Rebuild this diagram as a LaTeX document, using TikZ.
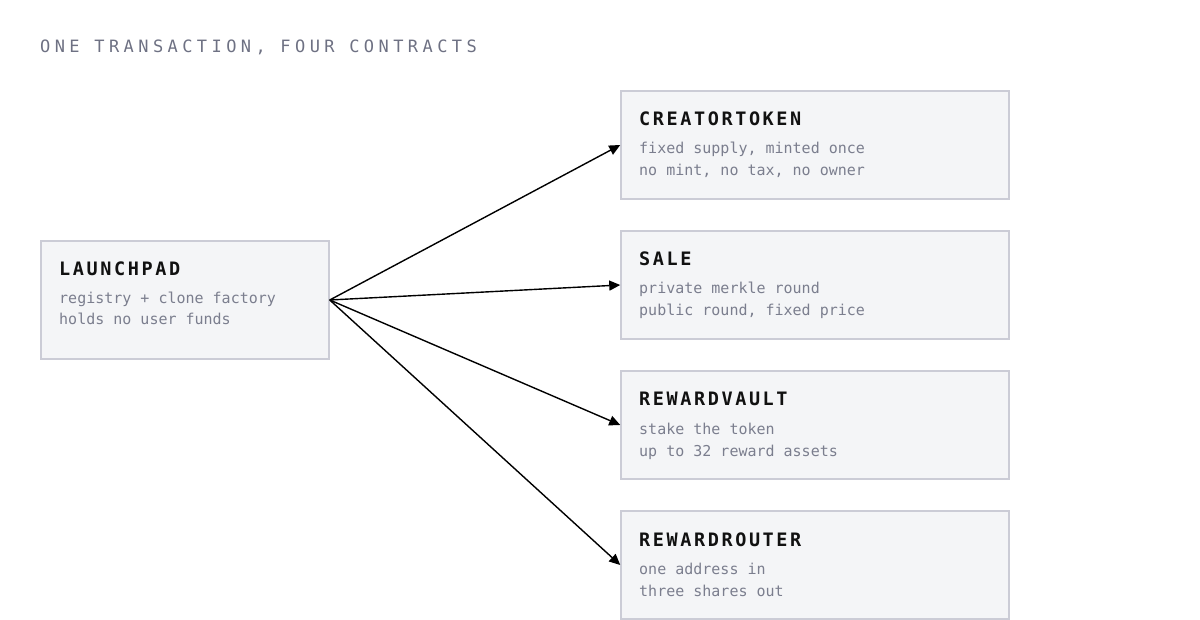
\documentclass[tikz,border=0pt]{standalone}
\usepackage{fontspec}
\usetikzlibrary{arrows.meta}
\newfontfamily\capfont[LetterSpace=26]{DejaVu Sans Mono}
\newfontfamily\headfont[LetterSpace=14]{DejaVu Sans Mono Bold}
\newfontfamily\bodyfont{DejaVu Sans Mono}
\definecolor{boxfill}{HTML}{F4F5F7}
\definecolor{boxline}{HTML}{CBCCD6}
\definecolor{subgrey}{HTML}{7B7E8E}
\definecolor{capgrey}{HTML}{6E7183}
\definecolor{headblack}{HTML}{111111}
\tikzset{
  card/.style={draw=boxline, fill=boxfill, line width=1.5pt, inner sep=0pt, rectangle},
  bigcard/.style={card, minimum width=288pt, minimum height=118pt},
  smallcard/.style={card, minimum width=388pt, minimum height=108pt},
  heading/.style={anchor=base west, inner sep=0pt, text=headblack, font=\headfont\fontsize{18.5pt}{20pt}\selectfont},
  sub/.style={anchor=base west, inner sep=0pt, text=subgrey, font=\bodyfont\fontsize{15pt}{22pt}\selectfont},
  link/.style={draw=black, line width=1.4pt, -{Triangle[length=11pt,width=10pt]}, shorten >=0pt}
}
\begin{document}
\begin{tikzpicture}[x=1pt,y=-1pt]
\fill[white] (0,0) rectangle (1200,620);
\useasboundingbox (0,0) rectangle (1200,620);
\node[anchor=base west, inner sep=0pt, text=capgrey, font=\capfont\fontsize{17pt}{18pt}\selectfont] (cap) at (40,53) {ONE TRANSACTION, FOUR CONTRACTS};

\node[bigcard] (lp) at (185,300) {};
\node[heading] (lph) at (59,276) {LAUNCHPAD};
\node[sub] (lps1) at (59,304) {registry + clone factory};
\node[sub] (lps2) at (59,325) {holds no user funds};

\node[smallcard] (ct) at (815,145) {};
\node[heading] (cth) at (639,126) {CREATORTOKEN};
\node[sub] (cts1) at (639,154) {fixed supply, minted once};
\node[sub] (cts2) at (639,176) {no mint, no tax, no owner};

\node[smallcard] (sa) at (815,285) {};
\node[heading] (sah) at (639,266) {SALE};
\node[sub] (sas1) at (639,294) {private merkle round};
\node[sub] (sas2) at (639,316) {public round, fixed price};

\node[smallcard] (rv) at (815,425) {};
\node[heading] (rvh) at (639,406) {REWARDVAULT};
\node[sub] (rvs1) at (639,434) {stake the token};
\node[sub] (rvs2) at (639,456) {up to 32 reward assets};

\node[smallcard] (rr) at (815,565) {};
\node[heading] (rrh) at (639,546) {REWARDROUTER};
\node[sub] (rrs1) at (639,574) {one address in};
\node[sub] (rrs2) at (639,596) {three shares out};

\draw[link] (lp.east) -- (ct.west);
\draw[link] (lp.east) -- (sa.west);
\draw[link] (lp.east) -- (rv.west);
\draw[link] (lp.east) -- (rr.west);
\end{tikzpicture}
\end{document}
